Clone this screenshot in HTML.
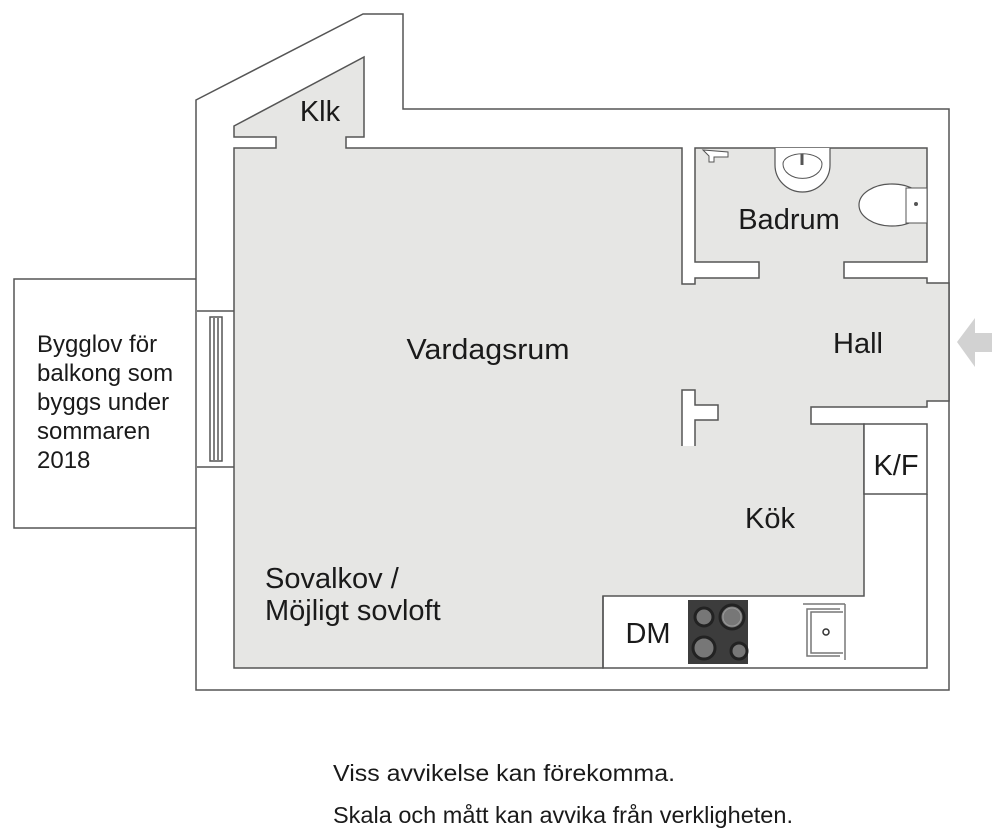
<!DOCTYPE html>
<html><head><meta charset="utf-8"><style>
html,body{margin:0;padding:0;background:#fff;}
svg{display:block;}
text{font-family:"Liberation Sans",sans-serif;fill:#1a1a1a;}
</style></head><body>
<svg width="1000" height="838" viewBox="0 0 1000 838" xmlns="http://www.w3.org/2000/svg">
<g stroke="#555" stroke-width="1.5">
<rect x="14" y="279" width="183" height="249" fill="#fff"/>
<path d="M196,100 L363,14 L403,14 L403,109 L949,109 L949,690 L196,690 Z" fill="#fff"/>
<path d="M234,126 L364,57 L364,137 L346,137 L346,148 L682,148 L682,284 L695,284 L695,278 L759,278 L759,262 L695,262 L695,148 L927,148 L927,262 L844,262 L844,278 L927,278 L927,283 L949,283 L949,401 L927,401 L927,407 L811,407 L811,424 L864,424 L864,596 L603,596 L603,668 L234,668 L234,148 L276,148 L276,137 L234,137 Z" fill="#e6e6e4"/>
<path d="M682,446 L682,390 L695,390 L695,405 L718,405 L718,420 L695,420 L695,446" fill="#fff"/>
<rect x="864" y="424" width="63" height="70" fill="#fff"/>
<path d="M603,596 L603,668 L927,668 L927,494" fill="none"/>
<line x1="197" y1="311" x2="234" y2="311"/>
<line x1="197" y1="467" x2="234" y2="467"/>
<rect x="210" y="317" width="12" height="144" fill="#fff"/>
<line x1="214" y1="318" x2="214" y2="460"/>
<line x1="218" y1="318" x2="218" y2="460"/>
</g>
<path d="M775,148 L775,165 A27.5,27 0 0 0 830,165 L830,148" fill="#fff" stroke="#555" stroke-width="1.2"/>
<path d="M783,164 A19,14 0 0 0 822,164 A19,10 0 0 0 783,164 Z" fill="#fff" stroke="#555"/>
<line x1="802" y1="154" x2="802" y2="165" stroke="#555" stroke-width="3"/>
<ellipse cx="892" cy="205" rx="33" ry="21" fill="#fff" stroke="#555" stroke-width="1.2"/>
<rect x="906" y="188" width="21" height="35" fill="#fff" stroke="#555"/>
<circle cx="916" cy="204" r="2" fill="#555"/>
<path d="M703,150 l6,6 l0,6 l5,0 l0,-5 l14,0 l0,-5 z" fill="#fff" stroke="#555"/>
<rect x="688" y="600" width="60" height="64" fill="#3c3c3c"/>
<g stroke="#222" stroke-width="3" fill="#777">
<circle cx="704" cy="617" r="9"/><circle cx="732" cy="617" r="12"/>
<circle cx="704" cy="648" r="11"/><circle cx="739" cy="651" r="8"/>
</g>
<circle cx="732" cy="617" r="9" fill="none" stroke="#999" stroke-width="1"/>
<g fill="none" stroke="#777" stroke-width="1.5">
<line x1="803" y1="604" x2="845" y2="604"/>
<path d="M840,609 L807,609 L807,656 L840,656"/>
<path d="M843,612 L811,612 L811,653 L843,653"/>
<line x1="845" y1="604" x2="845" y2="660"/>
</g>
<circle cx="826" cy="632" r="3" fill="none" stroke="#333" stroke-width="1.5"/>
<path d="M957,342 L975,318 L975,333 L992,333 L992,352 L975,352 L975,367 Z" fill="#d2d2d2"/>
<g font-size="29" text-anchor="middle">
<text x="320" y="121">Klk</text>
<text x="488" y="359" textLength="163" lengthAdjust="spacingAndGlyphs">Vardagsrum</text>
<text x="789" y="229">Badrum</text>
<text x="858" y="353">Hall</text>
<text x="896" y="475">K/F</text>
<text x="770" y="528">Kök</text>
<text x="648" y="643">DM</text>
</g>
<text x="265" y="588" font-size="29">Sovalkov /</text>
<text x="265" y="620" font-size="29">Möjligt sovloft</text>
<g font-size="24">
<text x="37" y="352">Bygglov för</text>
<text x="37" y="381">balkong som</text>
<text x="37" y="410">byggs under</text>
<text x="37" y="439">sommaren</text>
<text x="37" y="468">2018</text>
</g>
<text x="333" y="781" font-size="23" textLength="342" lengthAdjust="spacingAndGlyphs">Viss avvikelse kan förekomma.</text>
<text x="333" y="823" font-size="23" textLength="460" lengthAdjust="spacingAndGlyphs">Skala och mått kan avvika från verkligheten.</text>
</svg>
</body></html>
